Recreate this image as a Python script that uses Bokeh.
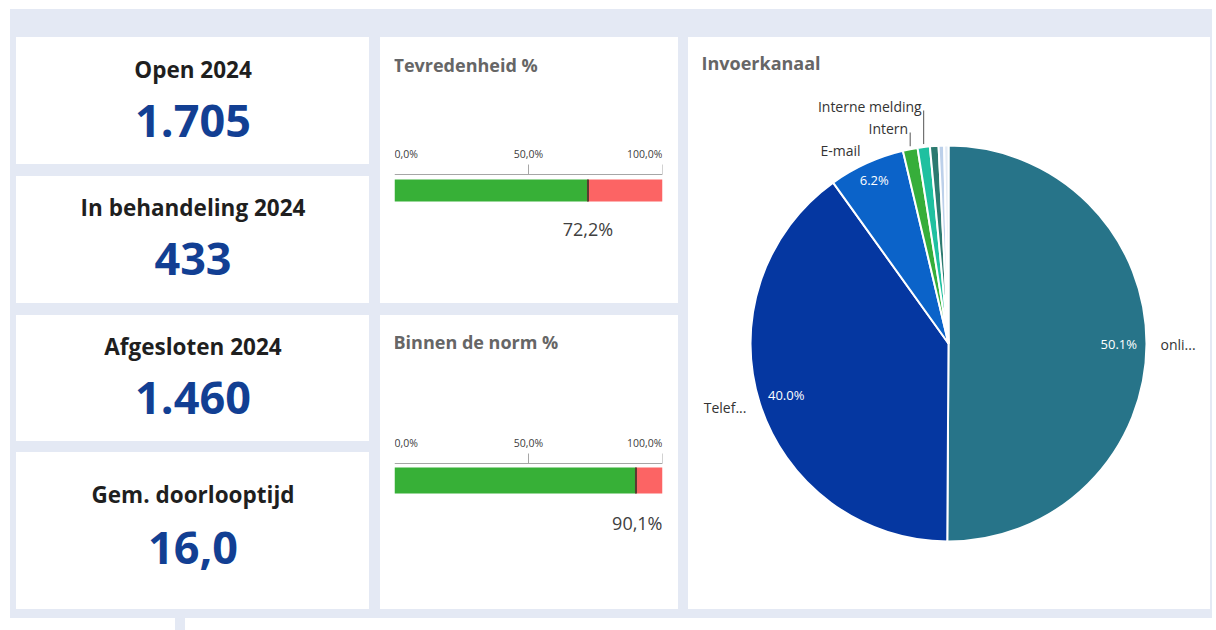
import math
from bokeh.plotting import figure
from bokeh.models import Range1d, FixedTicker, Spacer, ColumnDataSource, LinearAxis
from bokeh.layouts import column, row
from bokeh.core.properties import value
from bokeh.embed import file_html
from bokeh.resources import INLINE

# ---------------- data ----------------
kpi_titles = ["Open 2024", "In behandeling 2024", "Afgesloten 2024", "Gem. doorlooptijd"]
kpi_values = ["1.705", "433", "1.460", "16,0"]

gauge_titles = ["Tevredenheid %", "Binnen de norm %"]
gauge_values = [72.2, 90.1]
gauge_ticks = [0, 50, 100]
gauge_tick_labels = ["0,0%", "50,0%", "100,0%"]

pie_title = "Invoerkanaal"
channels = ["online", "Telefoon", "E-mail", "Intern", "Interne melding", "Balie", "Brief", "Overig"]
channel_labels = ["onli...", "Telef...", "E-mail", "Intern", "Interne melding", "", "", ""]
channel_share = [50.1, 40.0, 6.2, 1.2, 1.0, 0.7, 0.45, 0.35]
channel_colors = ["#277489", "#0537a1", "#0b63c9", "#36ae3a", "#1fc0a0", "#2c7a70", "#bcd0ea", "#e3ebf5"]

# ---------------- style ----------------
BG = "#e4e9f4"
FONT = value("Open Sans")
KPI_BLUE = "#123f93"
TITLE_GREY = "#666666"
GREEN = "#37b037"
RED = "#fc6464"
WHITE_BOX = {"background-color": "white"}


def bare(p):
    p.grid.visible = False
    p.outline_line_color = None
    p.background_fill_color = "white"
    p.border_fill_color = "white"
    return p


def kpi_fig(title, val, h, ty, vy):
    w = 353
    p = figure(width=w, height=h, x_range=Range1d(0, w), y_range=Range1d(h, 0),
               x_axis_location=None, y_axis_location=None, min_border=0,
               toolbar_location=None, output_backend="svg", styles=WHITE_BOX)
    bare(p)
    p.text(x=[w / 2], y=[ty], text=[title], text_font=FONT, text_font_size="22.5px",
           text_font_style="bold", text_color="#1f1f1f", text_align="center",
           text_baseline="middle")
    p.text(x=[w / 2], y=[vy], text=[val], text_font=FONT, text_font_size="45px",
           text_font_style="bold", text_color=KPI_BLUE, text_align="center",
           text_baseline="middle")
    return p


def gauge_fig(title, v, h, title_y, axis_y, bar_top, bar_h, lab_y):
    bottom = 30
    frame_h = h - bottom
    p = figure(width=298, height=h, x_range=Range1d(0, 100),
               y_range=Range1d(frame_h, 0), x_axis_location=None,
               y_axis_location=None, min_border_left=14, min_border_right=16,
               min_border_top=0, min_border_bottom=bottom,
               toolbar_location=None, output_backend="svg", styles=WHITE_BOX)
    bare(p)
    # ticks marks only at 50% and 100% (as in the original)
    ax = LinearAxis(fixed_location=axis_y, ticker=FixedTicker(ticks=gauge_ticks[1:]))
    ax.major_label_overrides = {gauge_ticks[-1]: "", gauge_ticks[1]: gauge_tick_labels[1]}
    ax.major_label_text_font = "Open Sans"
    ax.major_label_text_font_size = "10.5px"
    ax.major_label_text_color = "#404040"
    ax.major_label_standoff = -28
    ax.major_tick_out = 0
    ax.major_tick_in = 10
    ax.minor_tick_out = 0
    ax.minor_tick_in = 0
    ax.axis_line_color = "#a6a6a6"
    ax.major_tick_line_color = "#a6a6a6"
    p.add_layout(ax, "below")

    # end labels aligned inward, as in the original
    lab_tick_y = axis_y - 21
    p.text(x=[gauge_ticks[0]], y=[lab_tick_y], text=[gauge_tick_labels[0]], text_font=FONT,
           text_font_size="10.5px", text_color="#404040", text_align="left", text_baseline="middle")
    p.text(x=[gauge_ticks[-1]], y=[lab_tick_y], text=[gauge_tick_labels[-1]], text_font=FONT,
           text_font_size="10.5px", text_color="#404040", text_align="right", text_baseline="middle")

    p.text(x=[gauge_ticks[0]], y=[title_y], text=[title], text_font=FONT, text_font_size="18px",
           text_font_style="bold", text_color=TITLE_GREY, text_align="left",
           text_baseline="middle", x_offset=-1)

    bc = bar_top + bar_h / 2
    p.hbar(y=[bc], left=[0], right=[v], height=bar_h, fill_color=GREEN, line_color=None)
    p.hbar(y=[bc], left=[v], right=[gauge_ticks[-1]], height=bar_h, fill_color=RED, line_color=None)
    p.segment(x0=[v], x1=[v], y0=[bar_top], y1=[bar_top + bar_h],
              line_color="#5a3b30", line_width=2)
    lab = f"{v:.1f}".replace(".", ",") + "%"
    if v > 85:
        p.text(x=[gauge_ticks[-1]], y=[lab_y], text=[lab], text_font=FONT, text_font_size="18px",
               text_color="#404040", text_align="right", text_baseline="middle")
    else:
        p.text(x=[v], y=[lab_y], text=[lab], text_font=FONT, text_font_size="18px",
               text_color="#404040", text_align="center", text_baseline="middle")
    return p


# ---------------- KPI column ----------------
k1 = kpi_fig(kpi_titles[0], kpi_values[0], 127, 32, 83)
k2 = kpi_fig(kpi_titles[1], kpi_values[1], 127, 31, 82)
k3 = kpi_fig(kpi_titles[2], kpi_values[2], 126, 31, 82)
k4 = kpi_fig(kpi_titles[3], kpi_values[3], 157, 42, 95)
kpi_col = column(k1, Spacer(width=353, height=12), k2, Spacer(width=353, height=12),
                 k3, Spacer(width=353, height=11), k4)

# ---------------- gauges ----------------
g1 = gauge_fig(gauge_titles[0], gauge_values[0], 266, 27, 137, 142, 22, 191)
g2 = gauge_fig(gauge_titles[1], gauge_values[1], 294, 26, 148, 152, 26, 207)
mid_col = column(g1, Spacer(width=298, height=12), g2)

# ---------------- pie ----------------
R = 198
pie = figure(width=522, height=572, x_range=Range1d(-260, 262), y_range=Range1d(-266, 306),
             x_axis_location=None, y_axis_location=None, min_border=0,
             toolbar_location=None, output_backend="svg", styles=WHITE_BOX)
bare(pie)
total = sum(channel_share)
starts, ends, mids = [], [], []
cum = 0.0
for s in channel_share:
    a0 = math.pi / 2 - 2 * math.pi * cum / total
    cum += s
    a1 = math.pi / 2 - 2 * math.pi * cum / total
    starts.append(a0)
    ends.append(a1)
    mids.append((a0 + a1) / 2)
src = ColumnDataSource(dict(start=starts, end=ends, color=channel_colors, name=channels))
pie.wedge(x=0, y=0, radius=R, start_angle="start", end_angle="end", direction="clock",
          fill_color="color", line_color="white", line_width=2, source=src)

pie.text(x=[-247], y=[281], text=[pie_title], text_font=FONT, text_font_size="18px",
         text_font_style="bold", text_color=TITLE_GREY, text_align="left", text_baseline="middle")

stack_k = 0
for name, lab, s, m in zip(channels, channel_labels, channel_share, mids):
    if not lab:
        continue
    if s >= 5:
        rp = 0.86 * R if s >= 10 else 0.905 * R
        pie.text(x=[rp * math.cos(m)], y=[rp * math.sin(m)], text=[f"{s:.1f}%"], text_font=FONT,
                 text_font_size="13px", text_color="white", text_align="center",
                 text_baseline="middle")
        ro = 212
        xo, yo = ro * math.cos(m), ro * math.sin(m)
        pie.text(x=[xo], y=[yo], text=[lab], text_font=FONT, text_font_size="14px",
                 text_color="#333333", text_align="left" if xo > 0 else "right",
                 text_baseline="middle")
    else:
        lx = R * math.cos(m)
        ly0 = R * math.sin(m) + 3
        label_y = R + 17 + 22 * stack_k
        pie.segment(x0=[lx], x1=[lx], y0=[ly0], y1=[label_y - 4], line_color="#555555", line_width=1)
        pie.text(x=[lx - 2], y=[label_y], text=[lab], text_font=FONT, text_font_size="14px",
                 text_color="#333333", text_align="right", text_baseline="middle")
        stack_k += 1

# ---------------- layout ----------------
main_row = row(Spacer(width=6, height=572), kpi_col, Spacer(width=11, height=572), mid_col,
               Spacer(width=10, height=572), pie, Spacer(width=2, height=572))
bgbox = column(Spacer(width=1202, height=28), main_row, Spacer(width=1202, height=9),
               styles={"background-color": BG})
bottom = row(Spacer(width=175, height=12),
             Spacer(width=10, height=12, styles={"background-color": BG}),
             Spacer(width=1027, height=12))
page = column(Spacer(width=1212, height=9), row(Spacer(width=10, height=609), bgbox), bottom)

open("out.html", "w").write(file_html(page, INLINE))
